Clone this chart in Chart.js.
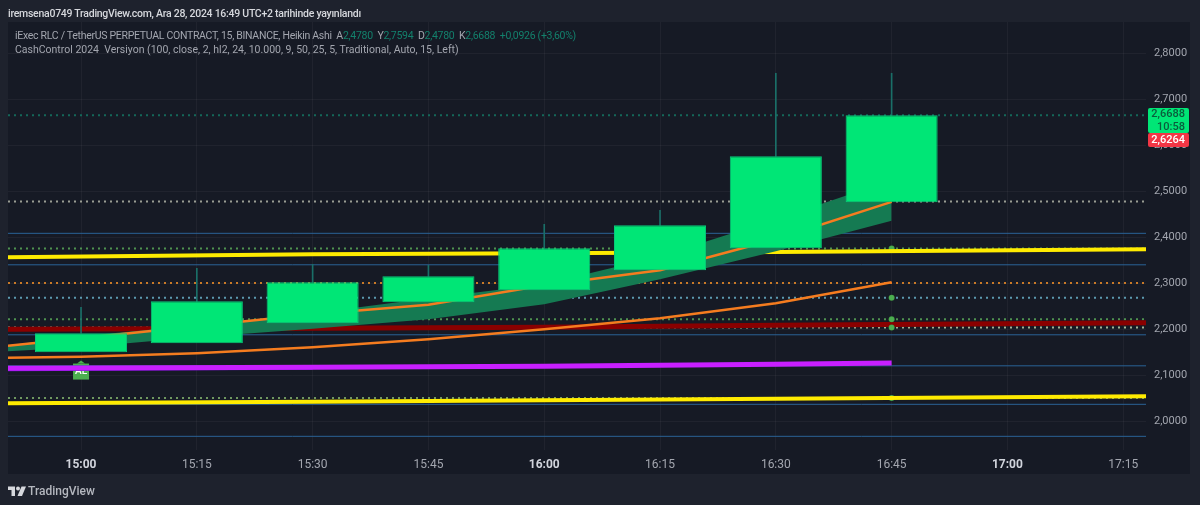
<!DOCTYPE html>
<html lang="tr">
<head>
    <meta charset="UTF-8">
    <title>iExec RLC / TetherUS</title>
    <script src="https://cdn.jsdelivr.net/npm/chart.js"></script>
    <style>
        html, body { margin: 0; padding: 0; }
        body {
            width: 1200px;
            height: 505px;
            overflow: hidden;
            position: relative;
            background: #1e222d;
            font-family: Roboto, sans-serif;
        }
        #panel { position: absolute; left: 8px; top: 22px; width: 1182px; height: 452px; background: #161a25; }
        #grafico { position: absolute; left: 0; top: 0; }
        .texto { position: absolute; white-space: pre; }
        #publicado { left: 8px; top: 7px; font-size: 10.5px; letter-spacing: -0.27px; font-weight: 500; color: #d6d8dd; }
        .leyenda { left: 15px; font-size: 10.5px; color: #a3a6af; }
        .leyenda b { font-weight: 400; color: #13806c; }
        .tag { position: absolute; left: 1148px; width: 41px; text-align: right; font-size: 11px; font-weight: 500; box-sizing: border-box; padding-right: 4px; border-radius: 2px; }
        #tag-verde { top: 108px; height: 25px; background: #00e676; color: #0a5c3c; line-height: 12.5px; }
        #tag-rojo { top: 133px; height: 14px; background: #f23645; color: #fff; line-height: 14px; }
        #logo { position: absolute; left: 8px; top: 485px; }
        #marca { left: 28px; top: 484px; font-size: 12px; font-weight: 500; color: #b4b7be; }
    </style>
</head>
<body>
    <div id="panel"></div>
    <canvas id="grafico" width="1200" height="505"></canvas>

    <div class="texto" id="publicado">iremsena0749 TradingView.com, Ara 28, 2024 16:49 UTC+2 tarihinde yayınlandı</div>
    <div class="texto leyenda" style="top:29px;letter-spacing:-0.29px">iExec RLC / TetherUS PERPETUAL CONTRACT, 15, BINANCE, Heikin Ashi  A<b>2,4780</b>  Y<b>2,7594</b>  D<b>2,4780</b>  K<b>2,6688</b>  <b>+0,0926 (+3,60%)</b></div>
    <div class="texto leyenda" style="top:43px">CashControl 2024  Versiyon (100, close, 2, hl2, 24, 10.000, 9, 50, 25, 5, Traditional, Auto, 15, Left)</div>

    <div class="tag" id="tag-verde">2,6688<br>10:58</div>
    <div class="tag" id="tag-rojo">2,6264</div>

    <svg id="logo" width="18" height="12" viewBox="0 0 36 24" fill="#d6d8dd">
        <path d="M14 3H0v7h7v12h7z"/>
        <circle cx="20" cy="7" r="4"/>
        <path d="M27 3h9l-8 19h-9z"/>
    </svg>
    <div class="texto" id="marca">TradingView</div>

    <script>
        // tiempo en minutos desde las 15:00
        const tickMinutos = [0, 15, 30, 45, 60, 75, 90, 105, 120, 135];
        const tickHoras = ['15:00', '15:15', '15:30', '15:45', '16:00', '16:15', '16:30', '16:45', '17:00', '17:15'];
        const tickPrecios = [2.0, 2.1, 2.2, 2.3, 2.4, 2.5, 2.6, 2.7, 2.8];

        const minInicio = -9.46;
        const minFin = 137.95;

        // velas heikin ashi
        const velaMinutos = [0, 15, 30, 45, 60, 75, 90, 105];
        const velaApertura = [2.1494, 2.1689, 2.2124, 2.2580, 2.2841, 2.3276, 2.3754, 2.4754];
        const velaCierre = [2.1907, 2.2602, 2.3015, 2.3146, 2.3754, 2.4254, 2.5754, 2.6646];
        const velaMaximo = [2.2472, 2.3320, 2.3407, 2.3385, 2.4276, 2.4580, 2.7559, 2.7559];

        // medias y banda
        const mediaMinutos = [minInicio, 0, 15, 30, 45, 60, 75, 90, 105];
        const naranjaAlta = [2.1635, 2.1798, 2.2059, 2.2320, 2.2526, 2.2950, 2.3276, 2.3950, 2.4765];
        const naranjaBaja = [2.1374, 2.1396, 2.1472, 2.1602, 2.1776, 2.1994, 2.2233, 2.2559, 2.3015];
        const bandaAlta = [2.1646, 2.1842, 2.2081, 2.2341, 2.2667, 2.2972, 2.3581, 2.4385, 2.5233];
        const bandaBaja = [2.1515, 2.1602, 2.1820, 2.2005, 2.2211, 2.2537, 2.3080, 2.3689, 2.4352];

        // lineas gruesas
        const gruesaMinutos = [minInicio, 30, 60, 90, minFin];
        const amarilloAlto = [2.3559, 2.3624, 2.3646, 2.3672, 2.3733];
        const amarilloBajo = [2.0385, 2.0417, 2.0450, 2.0482, 2.0537];
        const rojoOscuro = [2.1994, 2.2015, 2.2037, 2.2080, 2.2135];
        const moradoMinutos = [minInicio, 30, 60, 90, 105];
        const morado = [2.1146, 2.1168, 2.1189, 2.1233, 2.1262];
        const violetaMinutos = [minInicio, 30];
        const violeta = [2.1112, 2.1145];

        // niveles horizontales
        const nivelesAzules = [2.4080, 2.3396, 2.1874, 2.1200, 2.0363, 1.9667];
        const nivelesPunteados = [2.6646, 2.4770, 2.3748, 2.2998, 2.2680, 2.2211, 2.2031, 2.0500];
        const coloresPunteados = ['#14685a', '#9a9d94', '#4f9350', '#c97a28', '#5c9ab0', '#4f9350', '#a3b596', '#6f9860'];

        // puntos verdes de las 16:45
        const puntosMinutos = [105, 105, 105, 105, 105];
        const puntosPrecios = [2.3748, 2.2680, 2.2211, 2.2031, 2.0500];

        const precioAL = 2.1075;

        const aPuntos = (xs, ys) => xs.map((x, i) => ({ x: x, y: ys[i] }));

        function linea(xs, ys, color, ancho, orden) {
            return {
                type: 'line',
                data: aPuntos(xs, ys),
                borderColor: color,
                borderWidth: ancho,
                pointRadius: 0,
                tension: 0,
                fill: false,
                order: orden
            };
        }

        const datasets = [];

        // las velas van en dos datasets de barras: cuerpo y mecha
        datasets.push({
            type: 'bar',
            data: aPuntos(velaMinutos, velaApertura.map((a, i) => [a, velaCierre[i]])),
            backgroundColor: '#00e676',
            borderColor: '#08c97a',
            borderWidth: 1,
            borderSkipped: false,
            grouped: false,
            categoryPercentage: 1,
            barPercentage: 0.795,
            order: 0
        });
        datasets.push({
            type: 'bar',
            data: aPuntos(velaMinutos, velaCierre.map((c, i) => [c, velaMaximo[i]])),
            backgroundColor: '#1a6f68',
            grouped: false,
            barThickness: 1,
            order: 1
        });

        datasets.push({
            type: 'scatter',
            data: aPuntos(puntosMinutos, puntosPrecios),
            backgroundColor: '#4caf50',
            pointRadius: 3,
            showLine: false,
            order: 8
        });

        datasets.push(linea(mediaMinutos, naranjaAlta, '#f57c1f', 2.5, 3));
        datasets.push(linea(mediaMinutos, naranjaBaja, '#f57c1f', 2.5, 4));

        // la banda se rellena entre sus dos bordes
        const bandaSup = linea(mediaMinutos, bandaAlta, 'rgba(0,0,0,0)', 0, 5);
        bandaSup.fill = '+1';
        bandaSup.backgroundColor = '#157a52';
        datasets.push(bandaSup);
        datasets.push(linea(mediaMinutos, bandaBaja, 'rgba(0,0,0,0)', 0, 6));

        datasets.push(linea(gruesaMinutos, amarilloAlto, '#ffeb00', 4, 7));
        datasets.push(linea(gruesaMinutos, amarilloBajo, '#ffeb00', 4, 7));
        datasets.push(linea(moradoMinutos, morado, '#c81fff', 5, 9));
        datasets.push(linea(violetaMinutos, violeta, '#6a10d0', 3, 9.5));
        datasets.push(linea(gruesaMinutos, rojoOscuro, '#8a0000', 5, 10));

        nivelesPunteados.forEach((nivel, i) => {
            const d = linea([minInicio, minFin], [nivel, nivel], coloresPunteados[i], 2, 11);
            d.borderDash = [2, 4];
            datasets.push(d);
        });
        nivelesAzules.forEach(nivel => {
            datasets.push(linea([minInicio, minFin], [nivel, nivel], '#2a6296', 1, 12));
        });

        // etiqueta AL debajo de la primera vela
        const etiquetaAL = {
            id: 'etiquetaAL',
            beforeDatasetsDraw(chart) {
                const ctx = chart.ctx;
                const x = chart.scales.x.getPixelForValue(0);
                const y = chart.scales.y.getPixelForValue(precioAL);
                ctx.save();
                ctx.fillStyle = '#4caf50';
                ctx.beginPath();
                ctx.moveTo(x, y - 11);
                ctx.lineTo(x + 4, y - 8);
                ctx.lineTo(x - 4, y - 8);
                ctx.fill();
                ctx.fillRect(x - 8, y - 8, 16, 16);
                ctx.fillStyle = '#fff';
                ctx.font = '500 10px Roboto';
                ctx.textAlign = 'center';
                ctx.textBaseline = 'middle';
                ctx.fillText('AL', x, y);
                ctx.restore();
            }
        };

        const esHora = ctx => ctx.tick && ctx.tick.value % 60 === 0;

        new Chart(document.getElementById('grafico'), {
            data: { datasets: datasets },
            plugins: [etiquetaAL],
            options: {
                responsive: false,
                animation: false,
                devicePixelRatio: 1,
                layout: { padding: { left: 8, top: 22, right: 0, bottom: 31 } },
                plugins: { legend: { display: false }, tooltip: { enabled: false } },
                scales: {
                    x: {
                        type: 'linear',
                        offset: false,
                        min: minInicio,
                        max: minFin,
                        afterBuildTicks: scale => { scale.ticks = tickMinutos.map(v => ({ value: v })); },
                        afterFit: scale => { scale.height = 24; },
                        grid: { color: 'rgba(255,255,255,0.045)', drawTicks: false, offset: false },
                        border: { display: false },
                        ticks: {
                            maxRotation: 0,
                            autoSkip: false,
                            padding: 8,
                            color: ctx => (esHora(ctx) ? '#d1d4dc' : '#a3a6af'),
                            font: ctx => ({
                                family: 'Roboto',
                                size: 12,
                                weight: esHora(ctx) ? '700' : '400'
                            }),
                            callback: value => tickHoras[tickMinutos.indexOf(value)]
                        }
                    },
                    y: {
                        position: 'right',
                        min: 1.937,
                        max: 2.8674,
                        afterBuildTicks: scale => { scale.ticks = tickPrecios.map(v => ({ value: v })); },
                        afterFit: scale => { scale.width = 54; },
                        grid: { color: 'rgba(255,255,255,0.045)', drawTicks: false },
                        border: { display: false },
                        ticks: {
                            autoSkip: false,
                            padding: 8,
                            color: '#a3a6af',
                            font: { family: 'Roboto', size: 11 },
                            callback: value => value.toFixed(4).replace('.', ',')
                        }
                    }
                }
            }
        });
    </script>
</body>
</html>
